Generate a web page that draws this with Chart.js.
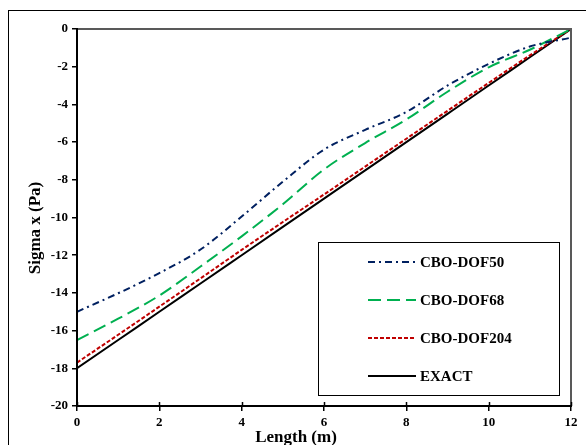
<!DOCTYPE html>
<html lang="en">
<head>
  <meta charset="UTF-8" />
  <title>Sigma x along length</title>
  <script src="https://cdn.jsdelivr.net/npm/chart.js"></script>
  <style>
    * { margin: 0; padding: 0; box-sizing: border-box; }
    body { background: #fff; width: 586px; height: 445px; overflow: hidden; }
    #wrap { position: relative; width: 586px; height: 445px; }
  </style>
</head>
<body>
  <div id="wrap"><canvas id="sigmaChart"></canvas></div>

  <script>
    // data
    const lengths = [0, 1, 2, 3, 4, 5, 6, 7, 8, 9, 10, 11, 12];
    const dof50 = [-15, -14.02, -12.95, -11.7, -9.95, -8.1, -6.4, -5.35, -4.4, -3.0, -1.85, -0.93, -0.46];
    const dof68 = [-16.5, -15.37, -14.14, -12.6, -11.0, -9.3, -7.45, -6.05, -4.8, -3.33, -2.03, -1.1, 0];
    const dof204 = [-17.7, -16.22, -14.73, -13.23, -11.72, -10.24, -8.78, -7.3, -5.82, -4.34, -2.86, -1.4, 0];
    const exact = [-18, -16.5, -15, -13.5, -12, -10.5, -9, -7.5, -6, -4.5, -3, -1.5, 0];
    const xTicks = [0, 2, 4, 6, 8, 10, 12];
    const yTicks = [-20, -18, -16, -14, -12, -10, -8, -6, -4, -2, 0];
    const xTitle = 'Length (m)';
    const yTitle = 'Sigma x (Pa)';

    const serif = "'Liberation Serif', 'Times New Roman', serif";

    const toPts = arr => arr.map((v, i) => ({ x: lengths[i], y: v }));

    const series = [
      { label: 'CBO-DOF50', data: dof50, color: '#002060', dash: [7, 4, 2, 4] },
      { label: 'CBO-DOF68', data: dof68, color: '#00B050', dash: [13, 6] },
      { label: 'CBO-DOF204', data: dof204, color: '#C00000', dash: [4, 2] },
      { label: 'EXACT', data: exact, color: '#000000', dash: [] }
    ];

    // outer frame, plot frame, axis titles and legend box
    const frames = {
      id: 'frames',
      beforeDraw(chart) {
        const ctx = chart.ctx;
        ctx.save();
        ctx.fillStyle = '#fff';
        ctx.fillRect(0, 0, chart.width, chart.height);
        ctx.strokeStyle = '#000';
        ctx.lineWidth = 1;
        ctx.strokeRect(8.5, 10.5, 700, 600);
        ctx.restore();
      },
      afterDatasetsDraw(chart) {
        const { ctx, chartArea: a } = chart;
        ctx.save();
        ctx.lineWidth = 2;
        ctx.strokeStyle = '#595959';
        ctx.beginPath();
        ctx.moveTo(a.left, a.top);
        ctx.lineTo(a.right, a.top);
        ctx.lineTo(a.right, a.bottom);
        ctx.stroke();
        ctx.strokeStyle = '#000';
        ctx.beginPath();
        ctx.moveTo(a.left, a.top - 1);
        ctx.lineTo(a.left, a.bottom);
        ctx.lineTo(a.right + 1, a.bottom);
        ctx.stroke();
        // inner half of x ticks
        const xs = chart.scales.x;
        ctx.lineWidth = 1.5;
        ctx.beginPath();
        xTicks.forEach(t => {
          const px = Math.round(xs.getPixelForValue(t)) + 0.5;
          ctx.moveTo(px, a.bottom);
          ctx.lineTo(px, a.bottom - 4);
        });
        ctx.stroke();

        // axis titles (centred on the whole figure, like the original)
        ctx.fillStyle = '#000';
        ctx.font = 'bold 17px ' + serif;
        ctx.textAlign = 'center';
        ctx.textBaseline = 'alphabetic';
        ctx.fillText(xTitle, 296, 442);
        ctx.save();
        ctx.translate(40, 228);
        ctx.rotate(-Math.PI / 2);
        ctx.fillText(yTitle, 0, 0);
        ctx.restore();

        // legend box
        const bx = 318, by = 242, bw = 241, bh = 153;
        ctx.fillStyle = '#fff';
        ctx.fillRect(bx, by, bw, bh);
        ctx.lineWidth = 1;
        ctx.strokeStyle = '#000';
        ctx.strokeRect(bx + 0.5, by + 0.5, bw, bh);
        ctx.font = 'bold 15px ' + serif;
        ctx.textBaseline = 'middle';
        ctx.textAlign = 'left';
        series.forEach((s, i) => {
          const y = 262 + i * 38;
          ctx.strokeStyle = s.color;
          ctx.lineWidth = 2;
          ctx.setLineDash(s.dash);
          ctx.beginPath();
          ctx.moveTo(368, y);
          ctx.lineTo(416, y);
          ctx.stroke();
          ctx.setLineDash([]);
          ctx.fillStyle = '#000';
          ctx.fillText(s.label, 420, y + 1);
        });
        ctx.restore();
      }
    };

    new Chart(document.getElementById('sigmaChart'), {
      type: 'line',
      data: {
        datasets: series.map(s => ({
          label: s.label,
          data: toPts(s.data),
          borderColor: s.color,
          backgroundColor: s.color,
          borderDash: s.dash,
          borderWidth: 2,
          pointRadius: 0,
          cubicInterpolationMode: 'monotone',
          fill: false
        }))
      },
      options: {
        responsive: true,
        maintainAspectRatio: false,
        animation: false,
        layout: { padding: { top: 29, right: 15, left: 0, bottom: 0 } },
        plugins: { legend: { display: false }, tooltip: { enabled: false } },
        scales: {
          x: {
            type: 'linear',
            min: 0,
            max: 12,
            afterFit(s) { s.height = 39; },
            afterBuildTicks(s) { s.ticks = xTicks.map(v => ({ value: v })); },
            border: { display: false },
            grid: { drawOnChartArea: false, drawTicks: true, tickLength: 5, color: '#000', lineWidth: 1.5 },
            ticks: { color: '#000', padding: 4, maxRotation: 0, font: { family: serif, size: 13, weight: 'bold' } }
          },
          y: {
            type: 'linear',
            min: -20,
            max: 0,
            afterFit(s) { s.width = 77; },
            afterBuildTicks(s) { s.ticks = yTicks.map(v => ({ value: v })); },
            border: { display: false },
            grid: { drawOnChartArea: false, drawTicks: true, tickLength: 5, color: '#000', lineWidth: 1.5 },
            ticks: { color: '#000', padding: 4, font: { family: serif, size: 13, weight: 'bold' } }
          }
        }
      },
      plugins: [frames]
    });
  </script>
</body>
</html>
